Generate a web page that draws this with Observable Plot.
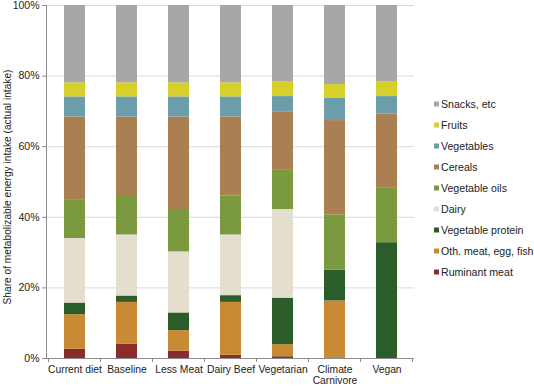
<!DOCTYPE html>
<html>
<head>
<meta charset="utf-8">
<script src="https://cdn.jsdelivr.net/npm/d3@7"></script>
<script src="https://cdn.jsdelivr.net/npm/@observablehq/plot@0.6"></script>
<style>
  body { margin: 0; background: #fff; }
  #chart { position: relative; width: 534px; height: 388px; }
</style>
</head>
<body>
<div id="chart"></div>
<script>
const diets = ["Current diet", "Baseline", "Less Meat", "Dairy Beef", "Vegetarian", "Climate\nCarnivore", "Vegan"];
// bottom to top stacking order
const categories = ["Ruminant meat", "Oth. meat, egg, fish", "Vegetable protein", "Dairy", "Vegetable oils", "Cereals", "Vegetables", "Fruits", "Snacks, etc"];
const colors = ["#8b2b2c", "#c98a36", "#2b5d2b", "#e3dece", "#7b9a40", "#aa7f51", "#6c9dab", "#d7cf2a", "#a7a7a7"];

// share (%) per category for each diet, same order as diets
const ruminantMeat   = [2.6, 4.0, 2.1, 0.9, 0.5, 0, 0];
const othMeat        = [9.8, 11.9, 5.8, 15.0, 3.4, 16.3, 0];
const vegProtein     = [3.3, 1.8, 5.0, 1.9, 13.2, 8.7, 32.8];
const dairy          = [18.3, 17.3, 17.3, 17.2, 25.1, 0, 0];
const vegOils        = [11.0, 10.9, 12.0, 11.0, 11.1, 15.7, 15.4];
const cereals        = [23.4, 22.5, 26.2, 22.4, 16.6, 26.7, 21.1];
const vegetables     = [5.7, 5.7, 5.7, 5.7, 4.3, 6.3, 4.9];
const fruits         = [4.0, 4.0, 4.0, 4.0, 4.1, 3.9, 4.1];
const snacks         = [21.9, 21.9, 21.9, 21.9, 21.7, 22.4, 21.7];

const yTicks = [0, 20, 40, 60, 80, 100];
const yTitle = "Share of metabolizable energy intake (actual intake)";

const series = [ruminantMeat, othMeat, vegProtein, dairy, vegOils, cereals, vegetables, fruits, snacks];
const data = [];
categories.forEach((c, i) => diets.forEach((d, j) => data.push({diet: d, category: c, value: series[i][j]})));

const font = "'Liberation Sans', Arial, sans-serif";

const plot = Plot.plot({
  width: 534,
  height: 388,
  marginLeft: 46,
  marginRight: 120,
  marginTop: 5,
  marginBottom: 30,
  style: {fontFamily: font, fontSize: "10px", color: "#222", background: "#fff"},
  x: {domain: diets, paddingInner: 0.6, paddingOuter: 0.3, label: null},
  y: {domain: [0, 100]},
  color: {domain: categories, range: colors},
  marks: [
    Plot.gridY(yTicks.slice(1), {stroke: "#d9d9d9", strokeOpacity: 1}),
    Plot.barY(data, {x: "diet", y: "value", fill: "category"}),
    Plot.frame({anchor: "left", stroke: "#8c8c8c"}),
    Plot.ruleY([0], {stroke: "#8c8c8c"}),
    Plot.axisY({
      ticks: yTicks, tickFormat: d => d + "%", tickSize: 4, tickPadding: 3,
      stroke: "#8c8c8c", fill: "#222", fontSize: 10.5, label: null
    }),
    Plot.axisX({tickSize: 0, tickPadding: 6, lineHeight: 1.1, fill: "#222", fontSize: 10.3, label: null})
  ]
});

document.getElementById("chart").appendChild(plot);

const svg = d3.select(plot);

// y-axis title
svg.append("text")
  .attr("transform", "translate(10.5,187) rotate(-90)")
  .attr("text-anchor", "middle").attr("font-family", font).attr("font-size", 10.2)
  .attr("fill", "#222").text(yTitle);

// band boundary ticks on the x axis
const xs = plot.scale("x");
const step = xs.step, bw = xs.bandwidth;
const bounds = diets.map(d => xs.apply(d) - (step - bw) / 2);
bounds.push(xs.apply(diets[diets.length - 1]) + bw + (step - bw) / 2);
const y0 = plot.scale("y").apply(0);
svg.append("g").selectAll("line").data(bounds).join("line")
  .attr("x1", d => d).attr("x2", d => d)
  .attr("y1", y0).attr("y2", y0 + 4)
  .attr("stroke", "#8c8c8c");

// legend (top to bottom: reverse stacking order)
const legendItems = categories.map((c, i) => ({c, col: colors[i]})).reverse();
const lg = svg.append("g").attr("font-family", font).attr("font-size", 10.6).attr("text-anchor", "start");
legendItems.forEach((it, i) => {
  const cy = 104 + i * 21;
  lg.append("rect").attr("x", 434).attr("y", cy - 2.5).attr("width", 5).attr("height", 5).attr("fill", it.col);
  lg.append("text").attr("x", 441).attr("y", cy).attr("dy", "0.35em").attr("fill", "#222").text(it.c);
});
</script>
</body>
</html>
